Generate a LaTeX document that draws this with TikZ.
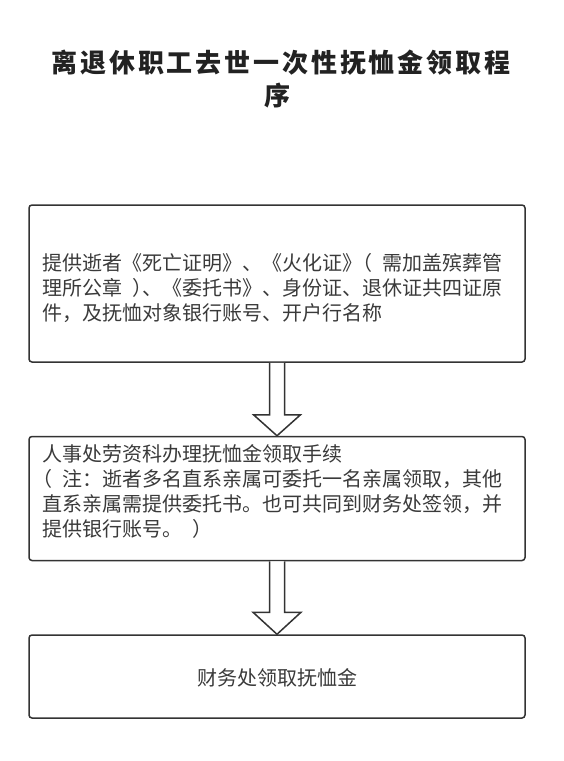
\documentclass[tikz,border=0pt]{standalone}
\usepackage{fontspec}
\setmainfont{Noto Sans CJK SC}
\newfontfamily\titlefont[LetterSpace=11]{Noto Sans CJK SC}
\usetikzlibrary{calc}
\definecolor{linec}{HTML}{333333}
\definecolor{textc}{HTML}{3A3A3A}
\definecolor{titlec}{HTML}{222222}
\newcommand\myLpar{\makebox[1em][l]{\kern-0.5em（}}
\newcommand\myRpar{\makebox[1em][l]{\kern0.5em）}}
\tikzset{
  box/.style={draw=linec, line width=1.5pt, rounded corners=3pt, fill=white, inner sep=0pt},
  txt/.style={anchor=base west, inner sep=0pt, text=textc, font=\fontsize{20pt}{25pt}\selectfont},
  ctxt/.style={anchor=base, inner sep=0pt, text=textc, font=\fontsize{20pt}{25pt}\selectfont},
  ttl/.style={anchor=base, inner sep=0pt, text=titlec, font=\titlefont\bfseries\fontsize{26pt}{33pt}\selectfont},
  blockarrow/.style={draw=linec, line width=1.5pt, fill=white, line join=miter}
}
\begin{document}
\begin{tikzpicture}[x=1pt,y=-1pt]
\useasboundingbox[fill=white] (0,0) rectangle (563,761);
% title
\node[ttl] (title1) at (281,72) {离退休职工去世一次性抚恤金领取程};
\node[ttl] (title2) at (277,105) {序};
% boxes
\node[box, minimum width=496pt, minimum height=157pt] (b1) at (277,283.5) {};
\node[box, minimum width=496pt, minimum height=124pt] (b2) at (277,498.5) {};
\node[box, minimum width=496pt, minimum height=83pt] (b3) at (277,676.5) {};
% arrows
\draw[blockarrow] ($(b1.south)+(-7.5,0)$) -- ($(b2.north)+(-7.5,-21)$) -- ($(b2.north)+(-23.5,-21)$) -- (b2.north) -- ($(b2.north)+(23.5,-21)$) -- ($(b2.north)+(7.5,-21)$) -- ($(b1.south)+(7.5,0)$);
\draw[blockarrow] ($(b2.south)+(-7.5,0)$) -- ($(b3.north)+(-7.5,-22)$) -- ($(b3.north)+(-24,-22)$) -- (b3.north) -- ($(b3.north)+(24,-22)$) -- ($(b3.north)+(7.5,-22)$) -- ($(b2.south)+(7.5,0)$);
% box 1 text
\node[txt] (t1a) at (42,270) {提供逝者《死亡证明》、《火化证》\myLpar 需加盖殡葬管};
\node[txt] (t1b) at (42,295) {理所公章\myRpar 、《委托书》、身份证、退休证共四证原};
\node[txt] (t1c) at (42,320) {件，及抚恤对象银行账号、开户行名称};
% box 2 text
\node[txt] (t2a) at (42,461) {人事处劳资科办理抚恤金领取手续};
\node[txt] (t2b) at (42,486) {\myLpar 注：逝者多名直系亲属可委托一名亲属领取，其他};
\node[txt] (t2c) at (42,511) {直系亲属需提供委托书。也可共同到财务处签领，并};
\node[txt] (t2d) at (42,536) {提供银行账号。\myRpar};
% box 3 text
\node[ctxt] (t3) at (277,685) {财务处领取抚恤金};
\end{tikzpicture}
\end{document}
